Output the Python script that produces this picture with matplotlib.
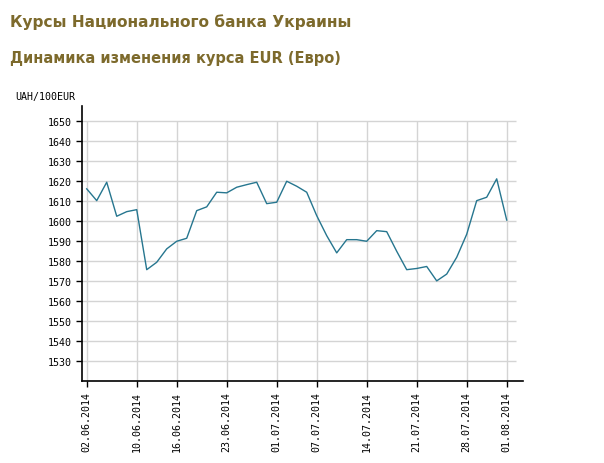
import matplotlib
matplotlib.use("Agg")
import matplotlib.pyplot as plt

# trading days 02.06.2014 - 01.08.2014 (09.06 and 30.06 are holidays)
dates = ["02.06", "03.06", "04.06", "05.06", "06.06",
         "10.06", "11.06", "12.06", "13.06",
         "16.06", "17.06", "18.06", "19.06", "20.06",
         "23.06", "24.06", "25.06", "26.06", "27.06",
         "01.07", "02.07", "03.07", "04.07",
         "07.07", "08.07", "09.07", "10.07", "11.07",
         "14.07", "15.07", "16.07", "17.07", "18.07",
         "21.07", "22.07", "23.07", "24.07", "25.07",
         "28.07", "29.07", "30.07", "31.07", "01.08"]
rates = [1616.2, 1610.3, 1619.5, 1602.5, 1604.8,
         1605.8, 1575.8, 1579.5, 1586.2,
         1590.0, 1591.5, 1605.3, 1607.2, 1614.5,
         1614.2, 1617.0, 1618.3, 1619.5, 1608.8,
         1609.5, 1620.0, 1617.5, 1614.5,
         1602.8, 1592.8, 1584.2, 1590.8, 1590.8,
         1590.0, 1595.3, 1594.8, 1585.0, 1575.8,
         1576.4, 1577.4, 1570.2, 1573.6, 1582.0,
         1593.5, 1610.3, 1612.0, 1621.2, 1600.6]
tick_dates = ["02.06", "10.06", "16.06", "23.06", "01.07",
              "07.07", "14.07", "21.07", "28.07", "01.08"]
y_ticks = [1530, 1540, 1550, 1560, 1570, 1580, 1590, 1600, 1610, 1620, 1630, 1640, 1650]

title_color = "#7d6a2c"
line_color = "#26768f"
grid_color = "#d4d4d4"
mono = "DejaVu Sans Mono"

fig = plt.figure(figsize=(6.04, 4.64), dpi=100)
ax = fig.add_axes([0.1353, 0.176, 0.7306, 0.5934])

x = list(range(len(rates)))
tick_pos = [dates.index(d) for d in tick_dates]
tick_labels = [d + ".2014" for d in tick_dates]

ax.set_xlim(-0.5, 43.63)
ax.set_ylim(1520, 1657.6)

# grid, limited like on the original
ax.hlines(y_ticks, -0.5, 42.93, color=grid_color, lw=1, zorder=1)
ax.vlines(tick_pos, 1520, 1650, color=grid_color, lw=1, zorder=1)

ax.plot(x, rates, color=line_color, lw=1, zorder=3)

ax.set_xticks(tick_pos)
ax.set_xticklabels(tick_labels, rotation=90, fontsize=7.2, family=mono)
ax.set_yticks(y_ticks)
ax.set_yticklabels([str(v) for v in y_ticks], fontsize=7.2, family=mono)
ax.tick_params(length=4, width=1, color="black", pad=3)

for s in ["top", "right"]:
    ax.spines[s].set_visible(False)
for s in ["left", "bottom"]:
    ax.spines[s].set_linewidth(1.2)

fig.text(15 / 604, 1 - 97 / 464, "UAH/100EUR", fontsize=7.2, family=mono, va="center")
fig.text(10 / 604, 1 - 22 / 464, "Курсы Национального банка Украины",
         fontsize=11.1, fontweight="bold", color=title_color, va="center")
fig.text(10 / 604, 1 - 59 / 464, "Динамика изменения курса EUR (Евро)",
         fontsize=10.5, fontweight="bold", color=title_color, va="center")

fig.savefig("out.png", dpi=100)
